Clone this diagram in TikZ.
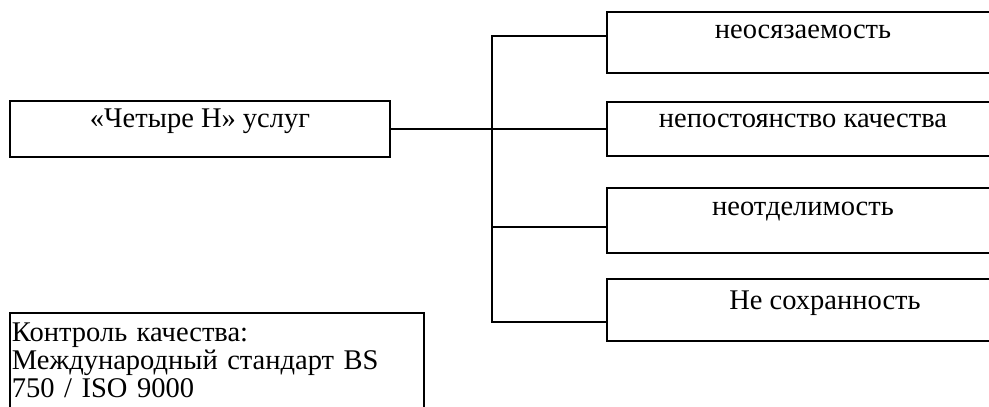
\documentclass[tikz,border=0pt]{standalone}
\usepackage{fontspec}
\setmainfont{Liberation Serif}
\begin{document}
\begin{tikzpicture}[x=1pt,y=-1pt,
  every node/.style={inner sep=0pt, outer sep=0pt, font=\fontsize{28.5}{30}\selectfont},
  box/.style={draw, line width=1.3pt, anchor=north west, align=center},
  wire/.style={line width=1.3pt}]
\clip (0,0) rectangle (989,407);
\fill[white] (0,0) rectangle (989,407);

% main topic
\node[box, minimum width=380pt, text height=26pt, text depth=30pt] (main) at (10,101) {«Четыре Н» услуг};

% the four properties
\node[box, minimum width=392pt, text height=26pt, text depth=35pt] (p1) at (607,12) {неосязаемость};
\node[box, minimum width=392pt, text height=25pt, text depth=29pt] (p2) at (607,102) {непостоянство качества};
\node[box, minimum width=392pt, text height=27pt, text depth=38pt] (p3) at (607,188) {неотделимость};
\node[box, minimum width=392pt, text height=30pt, text depth=32pt] (p4) at (607,279) {\hspace*{44pt}Не сохранность};

% quality control note
\node[box, text width=410pt, align=left, inner xsep=2pt,
      font=\fontsize{28.5}{28}\selectfont, text height=28pt, text depth=100pt] (qc) at (10,313)
  {Контроль качества:\\Международный стандарт BS\\750 / ISO 9000};

% branching connector
\coordinate (trunk) at (492,128);
\draw[wire] (main.east) -- (p2.west);
\draw[wire] (p1.west |- 0,36) -| (trunk |- 0,36) -- (trunk |- 0,322) -- (p4.west |- 0,322);
\draw[wire] (trunk |- 0,227) -- (p3.west |- 0,227);
\end{tikzpicture}
\end{document}
